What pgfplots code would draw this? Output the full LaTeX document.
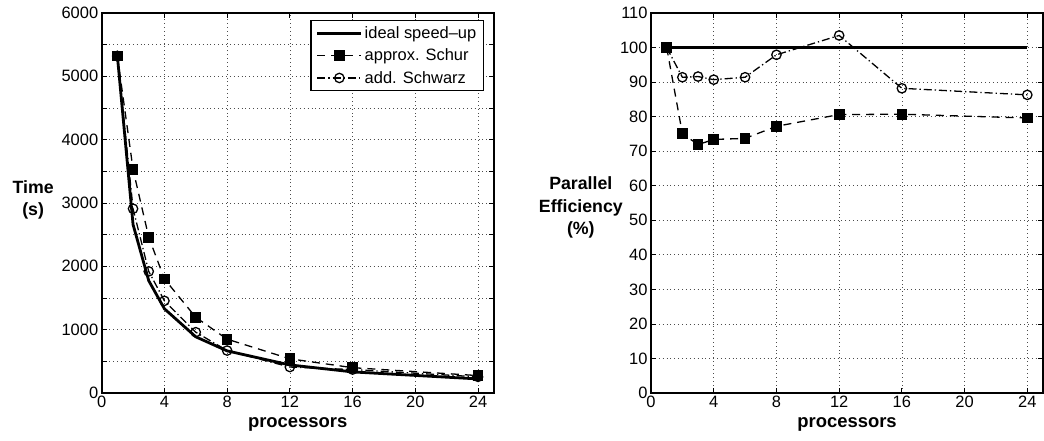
\documentclass[border=0pt]{standalone}
\usepackage{pgfplots}
\pgfplotsset{compat=1.18}
\usepackage{fontspec}
\setmainfont{Liberation Sans}

\pgfplotsset{
  matlab/.style={
    scale only axis, width=392bp, height=380bp,
    xmin=0, xmax=25, xtick={0,4,...,24},
    axis line style={line width=1.7pt},
    tick align=inside, tick style={black, line width=0.8pt},
    major tick length=5bp, minor tick length=5bp,
    grid style={black!70, line width=0.7pt, dash pattern=on 0.7pt off 3.2pt},
    minor grid style={black!70, line width=0.7pt, dash pattern=on 0.7pt off 3.2pt},
    ticklabel style={font=\fontsize{16.5}{16.5}\selectfont},
    /pgf/number format/assume math mode=true,
    /pgf/number format/set thousands separator={},
    xlabel={processors},
    xlabel style={font=\fontsize{18.5}{20}\selectfont\bfseries,
      at={(axis description cs:0.5,-0.082)}, anchor=center},
    ylabel style={font=\fontsize{17.8}{22.5}\selectfont\bfseries, align=center,
      rotate=-90, anchor=center},
  },
  ideal/.style={black, line width=2.8pt},
  schur/.style={black, line width=1.3pt, dash pattern=on 8pt off 6pt,
    mark=square*, mark size=4.7bp, mark options={solid, fill=black}},
  schwarz/.style={black, line width=1.3pt, dash pattern=on 8pt off 3pt on 1.3pt off 3pt,
    mark=o, mark size=4.7bp, mark options={solid, fill=white}},
}

\begin{document}
\begin{tikzpicture}
% left: run time
\begin{axis}[matlab,
  ymin=0, ymax=6000, ytick={0,1000,...,6000},
  minor y tick num=1, grid=both, minor x tick num=0,
  ylabel={Time\\(s)},
  ylabel style={at={(axis description cs:-0.175,0.508)}},
  legend cell align=left,
  legend style={at={(0.975,0.982)}, anchor=north east, draw=black,
    line width=1.3pt, font=\fontsize{16.5}{16.5}\selectfont, row sep=5bp,
    inner xsep=5bp, inner ysep=4bp},
  legend image code/.code={\draw[mark repeat=2, mark phase=2]
    plot coordinates {(0bp,0bp) (22bp,0bp) (44bp,0bp)};},
]
\addplot[ideal] coordinates {(1,5320)(2,2660)(3,1773)(4,1330)(6,887)(8,665)(12,443)(16,333)(24,222)};
\addlegendentry{ideal speed--up}
\addplot[schur] coordinates {(1,5320)(2,3530)(3,2460)(4,1800)(6,1195)(8,850)(12,540)(16,400)(24,275)};
\addlegendentry{approx. Schur}
\addplot[schwarz] coordinates {(1,5320)(2,2910)(3,1920)(4,1455)(6,960)(8,670)(12,410)(16,370)(24,255)};
\addlegendentry{add. Schwarz}
\addplot[only marks, mark=*, mark size=5.3bp, black, forget plot] coordinates {(1,5320)};
\end{axis}
% right: parallel efficiency
\begin{axis}[matlab, at={(549.3bp,0bp)},
  ymin=0, ymax=110, ytick={0,10,...,110}, grid=major,
  ylabel={Parallel\\Efficiency\\(\%)},
  ylabel style={at={(axis description cs:-0.179,0.488)}},
]
\addplot[ideal] coordinates {(1,100)(24,100)};
\addplot[schur] coordinates {(1,100)(2,75.1)(3,71.9)(4,73.4)(6,73.7)(8,77.2)(12,80.6)(16,80.7)(24,79.6)};
\addplot[schwarz] coordinates {(1,100)(2,91.4)(3,91.6)(4,90.7)(6,91.4)(8,97.9)(12,103.5)(16,88.2)(24,86.3)};
\addplot[only marks, mark=*, mark size=5.3bp, black] coordinates {(1,100)};
\end{axis}
\pgfresetboundingbox
\useasboundingbox (-101.7bp,-48bp) rectangle (942.3bp,393bp);
\end{tikzpicture}
\end{document}
